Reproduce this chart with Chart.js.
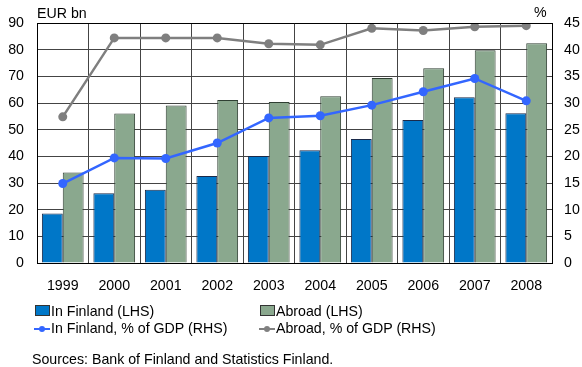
<!DOCTYPE html>
<html><head><meta charset="utf-8">
<script src="https://cdn.jsdelivr.net/npm/chart.js@4/dist/chart.umd.min.js"></script>
<style>
body{margin:0;background:#fff;font-family:"Liberation Sans",Arial,sans-serif;}
#wrap{position:relative;width:582px;height:367px;}
canvas{position:absolute;left:0;top:0;}
.t{position:absolute;font-size:14.2px;color:#000;white-space:nowrap;}
.box{display:inline-block;width:13px;height:9px;border:1px solid #333;vertical-align:0px;margin-right:1px;}
.ln{display:inline-block;position:relative;width:16px;height:10px;vertical-align:-1px;margin-right:1px;}
.ln i{position:absolute;left:0;top:4px;width:16px;height:2px;}
.ln b{position:absolute;left:5px;top:2px;width:6px;height:6px;border-radius:50%;}
</style></head>
<body><div id="wrap"><canvas id="c" width="582" height="367"></canvas>
<div class="t" style="left:37px;top:5px;">EUR bn</div>
<div class="t" style="left:534px;top:4px;">%</div>
<div class="t" style="left:35px;top:303px;"><span class="box" style="background:#0077c8;"></span>In Finland (LHS)</div>
<div class="t" style="left:260px;top:303px;"><span class="box" style="background:#8aa88e;"></span>Abroad (LHS)</div>
<div class="t" style="left:34px;top:320px;"><span class="ln"><i style="background:#3366ff"></i><b style="background:#3366ff"></b></span>In Finland, % of GDP (RHS)</div>
<div class="t" style="left:259px;top:320px;"><span class="ln"><i style="background:#808080"></i><b style="background:#808080"></b></span>Abroad, % of GDP (RHS)</div>
<div class="t" style="left:32px;top:351px;">Sources: Bank of Finland and Statistics Finland.</div>
</div>
<script>
const years = ["1999","2000","2001","2002","2003","2004","2005","2006","2007","2008"];
const inFinland = [18.6, 26.2, 27.5, 32.6, 40.1, 42.3, 46.5, 53.6, 62.2, 56.2];
const abroad = [33.9, 56.1, 59.1, 61.1, 60.4, 62.5, 69.4, 73.0, 79.8, 82.4];
const inFinlandPct = [14.9, 19.7, 19.6, 22.5, 27.2, 27.6, 29.6, 32.1, 34.6, 30.4];
const abroadPct = [27.4, 42.2, 42.2, 42.2, 41.1, 40.9, 44.0, 43.6, 44.3, 44.5];
const leftTicks = [0,10,20,30,40,50,60,70,80,90];
const rightTicks = [0,5,10,15,20,25,30,35,40,45];

const FONT = {family:"Liberation Sans, Arial, sans-serif", size:14.2};
new Chart(document.getElementById('c'), {
  type:'bar',
  data:{labels:years, datasets:[
    {type:'line', label:'In Finland, % of GDP (RHS)', data:inFinlandPct, yAxisID:'y2', borderColor:'#3366ff', backgroundColor:'#3366ff', borderWidth:2.5, pointRadius:4.5, pointBackgroundColor:'#3366ff', pointBorderWidth:0, order:0, tension:0},
    {type:'line', label:'Abroad, % of GDP (RHS)', data:abroadPct, yAxisID:'y2', borderColor:'#7f7f7f', backgroundColor:'#7f7f7f', borderWidth:2.5, pointRadius:4.5, pointBackgroundColor:'#7f7f7f', pointBorderWidth:0, order:0, tension:0},
    {label:'In Finland (LHS)', data:inFinland, yAxisID:'y', backgroundColor:'#0077c8', borderColor:'#1a2a4a', borderWidth:1, order:1, categoryPercentage:0.81, barPercentage:1.0},
    {label:'Abroad (LHS)', data:abroad, yAxisID:'y', backgroundColor:'#8aa88e', borderColor:'#2f3f33', borderWidth:1, order:1, categoryPercentage:0.81, barPercentage:1.0}
  ]},
  options:{
    responsive:false, animation:false,
    layout:{padding:{top:23,left:0,right:0,bottom:0}},
    plugins:{legend:{display:false}, tooltip:{enabled:false}},
    scales:{
      x:{grid:{color:'#444', lineWidth:1, drawTicks:false, offset:true}, border:{color:'#000'},
         ticks:{color:'#000', font:FONT, padding:15, maxRotation:0},
         afterFit:s=>{s.height=104;}},
      y:{position:'left', min:0, max:90, grid:{color:'#444', drawTicks:false}, border:{color:'#000'},
         afterBuildTicks:s=>{s.ticks=leftTicks.map(v=>({value:v}));},
         ticks:{color:'#000', font:FONT, padding:13},
         afterFit:s=>{s.width=37;}},
      y2:{position:'right', min:0, max:45, grid:{display:false, drawTicks:false}, border:{color:'#000'},
         afterBuildTicks:s=>{s.ticks=rightTicks.map(v=>({value:v}));},
         ticks:{color:'#000', font:FONT, padding:12},
         afterFit:s=>{s.width=30;}}
    }
  },
  plugins:[{id:'topBorder', afterDraw(ch){const a=ch.chartArea,c=ch.ctx;c.save();c.strokeStyle='#000';c.lineWidth=1;c.beginPath();c.moveTo(a.left,a.top+0.5);c.lineTo(a.right,a.top+0.5);c.stroke();c.restore();}}]
});
</script></body></html>
